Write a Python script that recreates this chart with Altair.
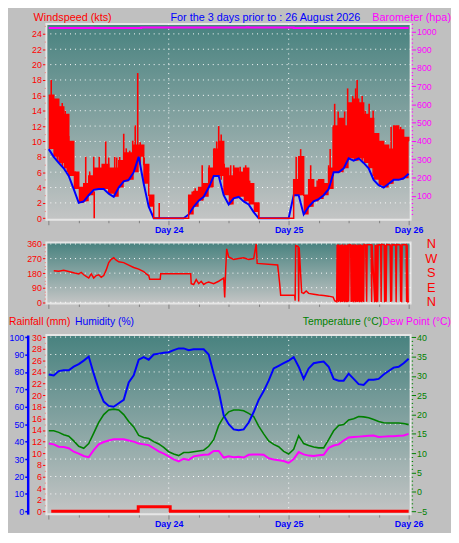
import altair as alt
import pandas as pd

# ---------------- data ----------------
hours = list(range(0, 73))

wind_avg = [9, 8, 7.2, 6.5, 5.5, 3.8, 2, 2.2, 3, 3.7,
            3.8, 3.8, 3.2, 2.8, 4, 4.8, 5, 6, 8, 4.5,
            1.5, 0, 0, 0, 0, 0, 0, 0, 0.5, 1.5,
            2.3, 2.8, 4, 5.5, 5.5, 3, 1.8, 2.6, 2.8, 2.2,
            1.8, 0.8, 0, 0, 0, 0, 0, 0, 0, 3,
            3, 0.5, 1.5, 2.2, 2.5, 3, 3.8, 6, 6, 6.5,
            7.8, 7.5, 7.8, 7.2, 6.5, 5, 4.3, 4, 4.5, 5,
            5, 5.2, 5.8]
wind_gust = [16, 15.5, 14.5, 13.5, 10, 6, 4, 4.5, 5.5, 6.5,
             6.5, 7, 6.5, 6.5, 7.5, 8.5, 8.5, 9.5, 9.5, 7,
             3, 0, 0, 0, 0, 0, 0, 0, 3, 3.5,
             4, 4.5, 6.5, 9, 10, 6.5, 5.5, 6.5, 6, 6.5,
             4.5, 2, 0, 0, 0, 0, 0, 0, 0, 5,
             8, 3, 5, 4, 5, 4.5, 6.5, 12, 13, 12,
             15, 15.5, 15, 13.5, 13, 11, 10, 9.5, 9, 12,
             11.5, 10.5, 10]

spike_hours = [0.5, 1.1, 1.7, 2.1, 2.7, 3.3, 3.7, 4.0, 5.3, 7.4, 8.2, 9.0, 9.1, 10.1, 10.7,
               11.4, 12.0, 13.2, 13.6, 14.2, 15.0, 15.5, 16.2, 16.8, 17.3, 17.8, 18.3, 19.1,
               22.1, 28.7, 29.3, 30.3, 30.7, 32.1, 32.5, 33.2, 33.6, 34.0, 34.5, 35.1, 36.4,
               37.0, 37.7, 38.3, 39.4, 40.2, 42.0, 49.5, 50.4, 52.4, 53.7, 56.0, 56.3, 56.9,
               57.2, 57.9, 58.2, 59.2, 59.8, 60.1, 60.8, 61.4, 61.7, 62.2, 62.7, 63.3, 64.1,
               64.9, 66.2, 66.9, 68.5, 69.1, 69.6, 70.4, 71.0]
spike_tops = [18, 15, 15.1, 13.9, 15, 14, 12.9, 10.7, 6.1, 8, 6.1, 8, 3.5, 8, 7.1,
              10, 7.9, 8, 7.9, 8, 11, 9.1, 8.8, 10.1, 12.1, 18.9, 9.9, 7.9,
              2, 3.5, 3.9, 4, 6.9, 6.9, 6, 9.1, 10, 12, 10.9, 7.1, 6.9,
              6.9, 5.9, 6.7, 6.9, 4.9, 2, 8, 9, 6.9, 4.9, 6.9, 9, 11.9,
              14.9, 13.9, 12, 13.9, 16.9, 15, 15.9, 16.9, 18, 15, 15.9, 14, 14.9,
              14, 9.9, 9.1, 11.9, 11.9, 10, 11.9, 10]
spike_bases = [9, 8, 7.6, 7.2, 6.8, 6.5, 6, 5.5, 3.8, 2.2, 3, 3.7, 0, 3.8, 3.8,
               3.8, 3.2, 2.8, 3.2, 4, 4.8, 4.9, 5, 5.8, 6.5, 7.8, 7, 4.5,
               0, 1.2, 1.5, 2.3, 2.3, 4, 4.5, 5.5, 5.5, 5.5, 5, 3, 1.8,
               2.6, 2.6, 2.8, 2.2, 1.8, 0, 3, 3, 1.5, 2.2, 3.8, 3.8, 5.5,
               6, 6, 6, 6.5, 7.5, 7.8, 7.8, 7.5, 7.6, 7.8, 7.5, 7.2, 6.5,
               5.5, 4.3, 4.1, 4.5, 5, 5, 5, 5.2]

baro_hours = [0, 8.4, 8.8, 18.5, 39.6, 40.0, 49, 51.6, 52.0, 72]
baro_hpa = [1019, 1021, 1019, 1022, 1024, 1022, 1019, 1021, 1019, 1019]

dir_hours = [1, 2, 3, 4, 5, 6, 6.5, 7, 7.5, 8, 8.5, 9, 9.5, 10, 10.5, 11, 11.5, 12,
             12.5, 13, 13.5, 14, 15, 16, 17, 18, 19, 19.5, 20, 20.2, 22.3, 22.4, 28.4,
             28.5, 29, 29.5, 30, 30.5, 31, 31.5, 32, 33, 34, 34.5, 35, 35.2, 35.4, 35.6,
             36, 37, 38, 39, 40, 41, 41.5, 41.7, 45.8, 46.2, 46.4, 49.2, 49.3, 49.4,
             49.9, 50.0, 50.1, 50.6, 51, 51.5, 52, 53, 54, 55, 56, 56.9, 57.2,
             57.6, 57.7, 57.8, 57.9, 58.0, 58.1, 58.2, 58.3, 58.4, 58.5, 58.6, 58.7, 58.8,
             58.9, 59.0, 59.1, 59.2, 59.3, 59.4, 59.5, 59.6, 59.7, 59.8, 59.9, 60.0, 60.1,
             60.2, 60.4, 60.5, 60.6,
             60.8, 60.9, 61.0, 61.1, 61.2, 61.3, 61.4, 61.5, 61.6, 61.7, 61.8, 61.9, 62.0,
             62.1, 62.2, 62.3, 62.4, 62.5, 62.6, 62.7, 62.8, 62.9, 63.0, 63.1,
             63.4, 63.6, 63.7, 64.5, 64.6, 64.7, 65.2, 65.3, 65.4, 65.5, 65.6, 65.7, 65.8,
             65.9, 66.4, 66.5, 66.6, 67.1, 67.2, 67.3, 67.5, 67.6, 68.3, 68.4, 68.5, 68.6,
             68.7, 69.4, 69.5, 69.6, 70.3, 70.4, 70.5, 70.6, 70.7, 71.5, 71.6, 71.7, 71.9,
             72.0]
dir_degrees = [195, 192, 198, 190, 182, 175, 185, 170, 160, 150, 175, 150, 165, 170, 155, 165, 200, 245,
               265, 275, 260, 250, 245, 230, 215, 205, 190, 175, 165, 142, 142, 176, 176,
               115, 110, 140, 115, 130, 110, 120, 125, 115, 130, 140, 150, 30, 200, 330,
               280, 265, 270, 275, 265, 270, 360, 240, 230, 115, 43, 43, 10, 350,
               345, 5, 340, 60, 55, 70, 55, 50, 45, 42, 38, 32, 10,
               3, 355, 5, 358, 2, 352, 8, 356, 0, 354, 4, 358, 2,
               350, 6, 355, 1, 357, 3, 352, 0, 356, 2, 358, 5, 354,
               357, 355, 2, 356,
               3, 357, 1, 353, 6, 358, 0, 355, 4, 352, 2, 357, 5,
               354, 0, 358, 3, 356, 1, 352, 7, 355, 2, 357,
               354, 3, 356, 355, 2, 357, 0, 355, 4, 352, 1, 357, 3,
               354, 356, 2, 358, 355, 0, 354, 3, 357, 355, 2, 352, 5,
               356, 354, 1, 357, 355, 3, 353, 0, 356, 357, 2, 355, 4,
               8]

compass_deg = [360, 270, 180, 90, 0]
compass_lbl = ["N", "W", "S", "E", "N"]

rain_hours = [0.5, 17.9, 24.3, 72]
rain_mm = [0, 0.8, 0, 0]

humidity = [78.5, 78, 80.5, 81, 81, 83, 84.5, 86.5, 88.8, 79,
            70, 63, 60.5, 60, 62, 64, 74, 78, 87, 88.5,
            87, 90, 90.5, 91, 91.3, 92.5, 93.5, 93.5, 92.5, 93,
            93, 93, 90, 79, 69, 55, 50, 47, 46.5, 47,
            51, 57, 64, 69, 75, 82, 83.5, 85, 86.5, 88.5,
            83, 76, 82, 85, 85.5, 86, 83, 76, 75, 75,
            79, 76, 73, 72.5, 75.5, 75.5, 76, 78.5, 80.5, 82.5,
            83, 85, 87.5]
temperature = [15.8, 15.8, 15.4, 14.8, 14.4, 13.2, 11.8, 11.3, 12.5, 15.2,
               18, 20, 21.2, 21.4, 21.2, 20, 18.2, 16.8, 14.6, 14.1,
               13.8, 13, 12.4, 11.5, 10.4, 9.8, 9.4, 10.2, 10.2, 10.4,
               10.6, 10.8, 11.8, 13.5, 17.2, 19.4, 20.7, 21.2, 21.2, 21,
               20.3, 19.5, 17, 15, 13.2, 12.3, 11.7, 10.5, 9.8, 11,
               14.5, 12.5, 12, 11.6, 11.4, 11.4, 13.5, 15.8, 17.2, 17.4,
               18.6, 18.9, 19.5, 19.4, 19.2, 18.7, 18.2, 17.9, 17.8, 17.8,
               17.8, 17.7, 17.4]
dew_point = [12.5, 12.3, 11.7, 11.6, 11.3, 10.4, 9.9, 9.3, 9, 10.8,
             12.3, 12.9, 13.3, 13.6, 13.6, 13.6, 13.3, 13, 12.5, 12.3,
             12.1, 11.3, 10.5, 9.9, 9.2, 8.4, 7.9, 8.6, 8.3, 9.2,
             9.4, 9.6, 9.7, 10.6, 10.6, 8.9, 9.2, 9, 9.1, 8.9,
             9.6, 9.7, 9.7, 9.6, 8.7, 8.4, 8.2, 8, 7.5, 8.5,
             10.3, 9.7, 9.4, 9.3, 9.5, 9.6, 11.4, 12, 12.3, 13.3,
             14.1, 14.2, 14.3, 14.4, 14.5, 14.6, 14.2, 14.3, 14.4, 14.4,
             14.5, 14.6, 15]

day_lines = [24, 48]
x_ticks = [0, 6, 12, 18, 24, 30, 36, 42, 48, 54, 60, 66, 72]
wind_ticks = [i * 0.5 for i in range(51)]
wind_grid = [2, 4, 6, 8, 10, 12, 14, 16, 18, 20, 22, 24]
baro_ticks = [i * 20 for i in range(53)]
dir_ticks = [i * 22.5 for i in range(17)]
dir_grid = [0, 90, 180, 270, 360]
rain_ticks = list(range(0, 31))
hum_ticks = [0, 10, 20, 30, 40, 50, 60, 70, 80, 90, 100]
hum_grid = [10, 20, 30, 40, 50, 60, 70, 80, 90, 100]
temp_ticks = list(range(-5, 41))

# ---------------- styling ----------------
FONT = "Liberation Sans"
RED, BLUE, MAG, GREEN = "#ff0000", "#0000ff", "#ff00ff", "#008000"
W, H1, H2, H3 = 370, 199, 62, 182
PL = 46  # screen x of plot left edge (for text placement)

XS = alt.Scale(domain=[-0.47, 72.4], nice=False, zero=False)
WS = alt.Scale(domain=[-0.2, 25.3], nice=False, zero=False)
BS = alt.Scale(domain=[-32, 1042], nice=False, zero=False)
DS = alt.Scale(domain=[-7.3, 369.6], nice=False, zero=False)
HS = alt.Scale(domain=[-1.6, 101.2], nice=False, zero=False)
RS = alt.Scale(domain=[-0.49, 30.37], nice=False, zero=False)
TS = alt.Scale(domain=[-5.73, 40.56], nice=False, zero=False)

one = pd.DataFrame({"a": [0]})


def xenc(labels):
    return alt.X(
        "h:Q", scale=XS,
        axis=alt.Axis(
            values=x_ticks, labels=labels, title=None, domain=False, grid=False,
            labelExpr="datum.value > 0 && datum.value % 24 === 0 ? 'Day ' + (23 + datum.value / 24) : ''",
            tickColor="#808080",
            tickSize={"condition": {"test": "datum.value % 24 === 0", "value": 5}, "value": 3},
            labelColor=BLUE, labelFont=FONT, labelFontSize=9, labelFontWeight="bold",
            labelPadding=1, labelOverlap=False, labelFlush=False,
        ),
    )


def yaxis(values, color, test, orient="left", big=4, small=2, **kw):
    return alt.Axis(
        values=values, orient=orient, title=None, domain=False, grid=False, format="d",
        labelExpr=f"{test} ? datum.label : ''",
        tickColor=color, labelColor=color,
        tickSize={"condition": {"test": test, "value": big}, "value": small},
        labelFont=FONT, labelFontSize=9, labelPadding=1, labelOverlap=False, labelFlush=False,
        **kw,
    )


def background(height):
    return alt.Chart(one).mark_rect(
        color={"gradient": "linear", "x1": 0, "y1": 0, "x2": 0, "y2": 1,
               "stops": [{"offset": 0, "color": "#48827f"}, {"offset": 1, "color": "#c4c5c5"}]},
        stroke="#e6e6e6", strokeWidth=2,
    ).encode(x=alt.value(0), x2=alt.value(W), y=alt.value(0), y2=alt.value(height))


def label(txt, x, y, color, size=11, align="left"):
    return alt.Chart(one).mark_text(
        text=txt, align=align, baseline="top", color=color, font=FONT, fontSize=size
    ).encode(x=alt.value(x), y=alt.value(y))


def day_rules():
    return alt.Chart(pd.DataFrame({"h": day_lines})).mark_rule(
        color="white", strokeDash=[1, 4], strokeWidth=1).encode(x=xenc(True))


# ---------------- top panel: wind speed + barometer ----------------
top_df = pd.DataFrame({"h": hours, "avg": wind_avg, "gust": wind_gust})
spike_df = pd.DataFrame({"h": spike_hours, "top": spike_tops, "base": spike_bases})
baro_df = pd.DataFrame({"h": baro_hours, "hpa": baro_hpa})

grid1 = alt.Chart(pd.DataFrame({"v": wind_grid})).mark_rule(
    color="white", strokeDash=[1, 4]).encode(y=alt.Y("v:Q", scale=WS, axis=None))
gust_area = alt.Chart(top_df).mark_area(color=RED, interpolate="step-after").encode(
    x=xenc(True), y=alt.Y("gust:Q", scale=WS, axis=None), y2="avg:Q")
spikes = alt.Chart(spike_df).mark_rule(color=RED, strokeWidth=1.6).encode(
    x=xenc(True), y=alt.Y("top:Q", scale=WS, axis=None), y2="base:Q")
avg_line = alt.Chart(top_df).mark_line(color=BLUE, strokeWidth=2).encode(
    x=xenc(True),
    y=alt.Y("avg:Q", scale=WS,
            axis=yaxis(wind_ticks, RED, "datum.value % 2 === 0 && datum.value <= 24")))
gust_line = alt.Chart(top_df).mark_line(color=RED, strokeWidth=1.5, interpolate="step-after").encode(
    x=xenc(True), y=alt.Y("gust:Q", scale=WS, axis=None))
baro_line = alt.Chart(baro_df).mark_line(color=MAG, strokeWidth=2, interpolate="step-after").encode(
    x=xenc(True),
    y=alt.Y("hpa:Q", scale=BS,
            axis=yaxis(baro_ticks, MAG, "datum.value % 100 === 0 && datum.value >= 100 && datum.value <= 1000",
                       orient="right", big=5, small=2)))

top = alt.layer(
    background(H1), day_rules(), grid1, gust_area, spikes, avg_line, gust_line, baro_line,
    label("Windspeed (kts)", 33 - PL, -12, RED),
    label("For the 3 days prior to : 26 August 2026", 172 - PL, -12, BLUE),
    label("Barometer (hpa)", 457 - PL, -12, MAG, align="right"),
).resolve_scale(y="independent").properties(width=W, height=H1)

# ---------------- middle panel: wind direction ----------------
dir_df = pd.DataFrame({"h": dir_hours, "deg": dir_degrees})
compass_df = pd.DataFrame({"deg": compass_deg, "lbl": compass_lbl})

grid2 = alt.Chart(pd.DataFrame({"v": dir_grid})).mark_rule(
    color="white", strokeDash=[1, 4]).encode(y=alt.Y("v:Q", scale=DS, axis=None))
dir_line = alt.Chart(dir_df).mark_line(color=RED, strokeWidth=1.5).encode(
    x=xenc(False),
    y=alt.Y("deg:Q", scale=DS, axis=yaxis(dir_ticks, RED, "datum.value % 90 === 0")))
compass = alt.Chart(compass_df).mark_text(
    color=RED, font=FONT, fontSize=13, align="center", baseline="middle").encode(
    x=alt.value(W + 21), y=alt.Y("deg:Q", scale=DS, axis=None), text="lbl:N")

mid = alt.layer(background(H2), grid2, dir_line, compass).resolve_scale(
    y="independent").properties(width=W, height=H2)

# ---------------- bottom panel: rain, humidity, temperature, dew point ----------------
bot_df = pd.DataFrame({"h": hours, "hum": humidity, "temp": temperature, "dew": dew_point})
rain_df = pd.DataFrame({"h": rain_hours, "mm": rain_mm})

grid3 = alt.Chart(pd.DataFrame({"v": hum_grid})).mark_rule(
    color="white", strokeDash=[1, 4]).encode(y=alt.Y("v:Q", scale=HS, axis=None))
rain_line = alt.Chart(rain_df).mark_line(color=RED, strokeWidth=3, interpolate="step-after").encode(
    x=xenc(True),
    y=alt.Y("mm:Q", scale=RS, axis=yaxis(rain_ticks, RED, "datum.value % 2 === 0")))
temp_line = alt.Chart(bot_df).mark_line(color=GREEN, strokeWidth=1.6).encode(
    x=xenc(True),
    y=alt.Y("temp:Q", scale=TS,
            axis=yaxis(temp_ticks, GREEN, "datum.value % 5 === 0", orient="right", big=5, small=2)))
dew_line = alt.Chart(bot_df).mark_line(color=MAG, strokeWidth=2).encode(
    x=xenc(True), y=alt.Y("dew:Q", scale=TS, axis=None))
hum_line = alt.Chart(bot_df).mark_line(color=BLUE, strokeWidth=2).encode(
    x=xenc(True),
    y=alt.Y("hum:Q", scale=HS,
            axis=alt.Axis(values=hum_ticks, orient="left", offset=19, title=None, grid=False,
                          domain=True, domainColor=BLUE, domainWidth=2.5, tickColor=BLUE,
                          tickSize=3, tickWidth=1.5, labelColor=BLUE, labelFont=FONT, labelFontSize=9,
                          labelPadding=1, labelOverlap=False, labelFlush=False, format="d")))
spacer = alt.Chart(one).mark_rule(strokeOpacity=0).encode(
    x=alt.value(0), x2=alt.value(1), y=alt.value(-23), y2=alt.value(-22))

bottom = alt.layer(
    background(H3), day_rules(), grid3, rain_line, temp_line, dew_line, hum_line, spacer,
    label("Rainfall (mm)", 8 - PL, -18, RED, size=10.5),
    label("Humidity (%)", 75 - PL, -18, BLUE, size=10.5),
    label("Temperature (°C)", 387 - PL, -18, GREEN, size=10.5, align="right"),
    label("Dew Point (°C)", 457 - PL, -18, MAG, size=10.5, align="right"),
).resolve_scale(y="independent").properties(width=W, height=H3)

chart = alt.vconcat(top, mid, bottom, spacing=3).configure(
    background="#c0c0c0", padding=0).configure_view(strokeWidth=0)

chart.save("out.html", embed_options={"renderer": "svg", "actions": False})
